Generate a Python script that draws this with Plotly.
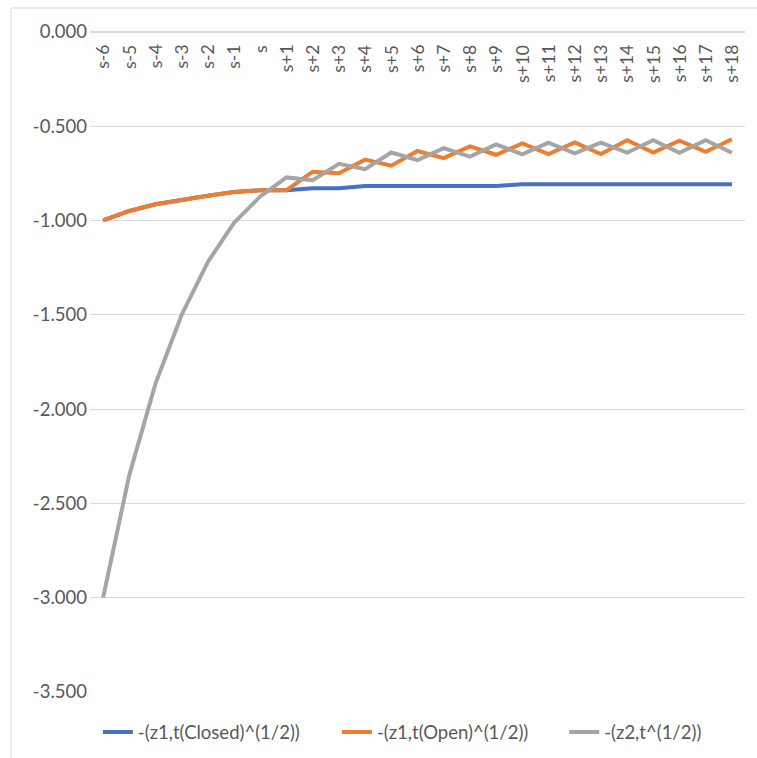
import plotly.graph_objects as go

# Period labels along the horizontal axis
periods = ["s-6", "s-5", "s-4", "s-3", "s-2", "s-1", "s",
           "s+1", "s+2", "s+3", "s+4", "s+5", "s+6", "s+7", "s+8", "s+9",
           "s+10", "s+11", "s+12", "s+13", "s+14", "s+15", "s+16", "s+17", "s+18"]

z1_closed = [-1.000, -0.950, -0.914, -0.890, -0.869, -0.850, -0.840,
             -0.840, -0.830, -0.830, -0.818, -0.818, -0.818, -0.818, -0.818, -0.818,
             -0.808, -0.808, -0.808, -0.808, -0.808, -0.808, -0.808, -0.808, -0.808]

z1_open = [-1.000, -0.950, -0.914, -0.890, -0.869, -0.850, -0.840,
           -0.840, -0.742, -0.750, -0.678, -0.710, -0.632, -0.670, -0.608, -0.652,
           -0.592, -0.648, -0.587, -0.648, -0.575, -0.640, -0.577, -0.636, -0.570]

z2 = [-3.000, -2.350, -1.865, -1.500, -1.220, -1.012, -0.873,
      -0.772, -0.787, -0.700, -0.728, -0.640, -0.680, -0.617, -0.662, -0.597,
      -0.650, -0.588, -0.644, -0.588, -0.641, -0.575, -0.641, -0.575, -0.641]

y_ticks = [0.0, -0.5, -1.0, -1.5, -2.0, -2.5, -3.0, -3.5]

series = [
    ("-(z1,t(Closed)^(1/2))", z1_closed, "#4472C4", "legend", 0.012),
    ("-(z1,t(Open)^(1/2))", z1_open, "#ED7D31", "legend2", 0.377),
    ("-(z2,t^(1/2))", z2, "#A5A5A5", "legend3", 0.724),
]

FONT = "Lato, sans-serif"
TEXT = "#595959"
GRID = "#D9D9D9"

fig = go.Figure()
legends = {}
for name, vals, color, leg, lx in series:
    fig.add_trace(go.Scatter(
        x=periods, y=vals, name=name, mode="lines", legend=leg,
        line=dict(color=color, width=4),
    ))
    legends[leg] = dict(orientation="h", x=lx, xanchor="left", y=-0.061, yanchor="middle",
                        font=dict(family=FONT, size=18.5, color=TEXT), itemwidth=30,
                        bgcolor="rgba(0,0,0,0)")

# Category labels hang just below the zero line, rotated, tops aligned
for p in periods:
    fig.add_annotation(x=p, y=0, xref="x", yref="y", text=p, showarrow=False,
                       textangle=-90, xanchor="center", yanchor="top", yshift=-11,
                       font=dict(family=FONT, size=17.5, color=TEXT))

# Chart frame: only the top and left edges fall inside the page
frame = dict(type="line", xref="paper", yref="paper", layer="below",
             line=dict(color=GRID, width=1))

fig.update_layout(
    width=757, height=758,
    margin=dict(l=90, r=12, t=28, b=66, autoexpand=False),
    paper_bgcolor="white", plot_bgcolor="white",
    font=dict(family=FONT, size=17, color=TEXT),
    showlegend=True,
    **legends,
    xaxis=dict(
        type="category", showticklabels=False,
        showgrid=False, showline=False, zeroline=False, ticks="",
        range=[-0.5, len(periods) - 0.5],
    ),
    yaxis=dict(
        range=[-3.5, 0.02], tickvals=y_ticks,
        ticktext=[f"{v:.3f}" for v in y_ticks],
        showgrid=True, gridcolor=GRID, gridwidth=1,
        zeroline=True, zerolinecolor=GRID, zerolinewidth=1.5,
        showline=False, ticks="",
        ticklabelstandoff=2,
        tickfont=dict(family=FONT, size=18.5, color=TEXT),
    ),
    shapes=[
        dict(frame, x0=-79 / 655, x1=680 / 655, y0=684 / 664, y1=684 / 664),
        dict(frame, x0=-79 / 655, x1=-79 / 655, y0=684 / 664, y1=-80 / 664),
    ],
)

fig.write_html("out.html")
